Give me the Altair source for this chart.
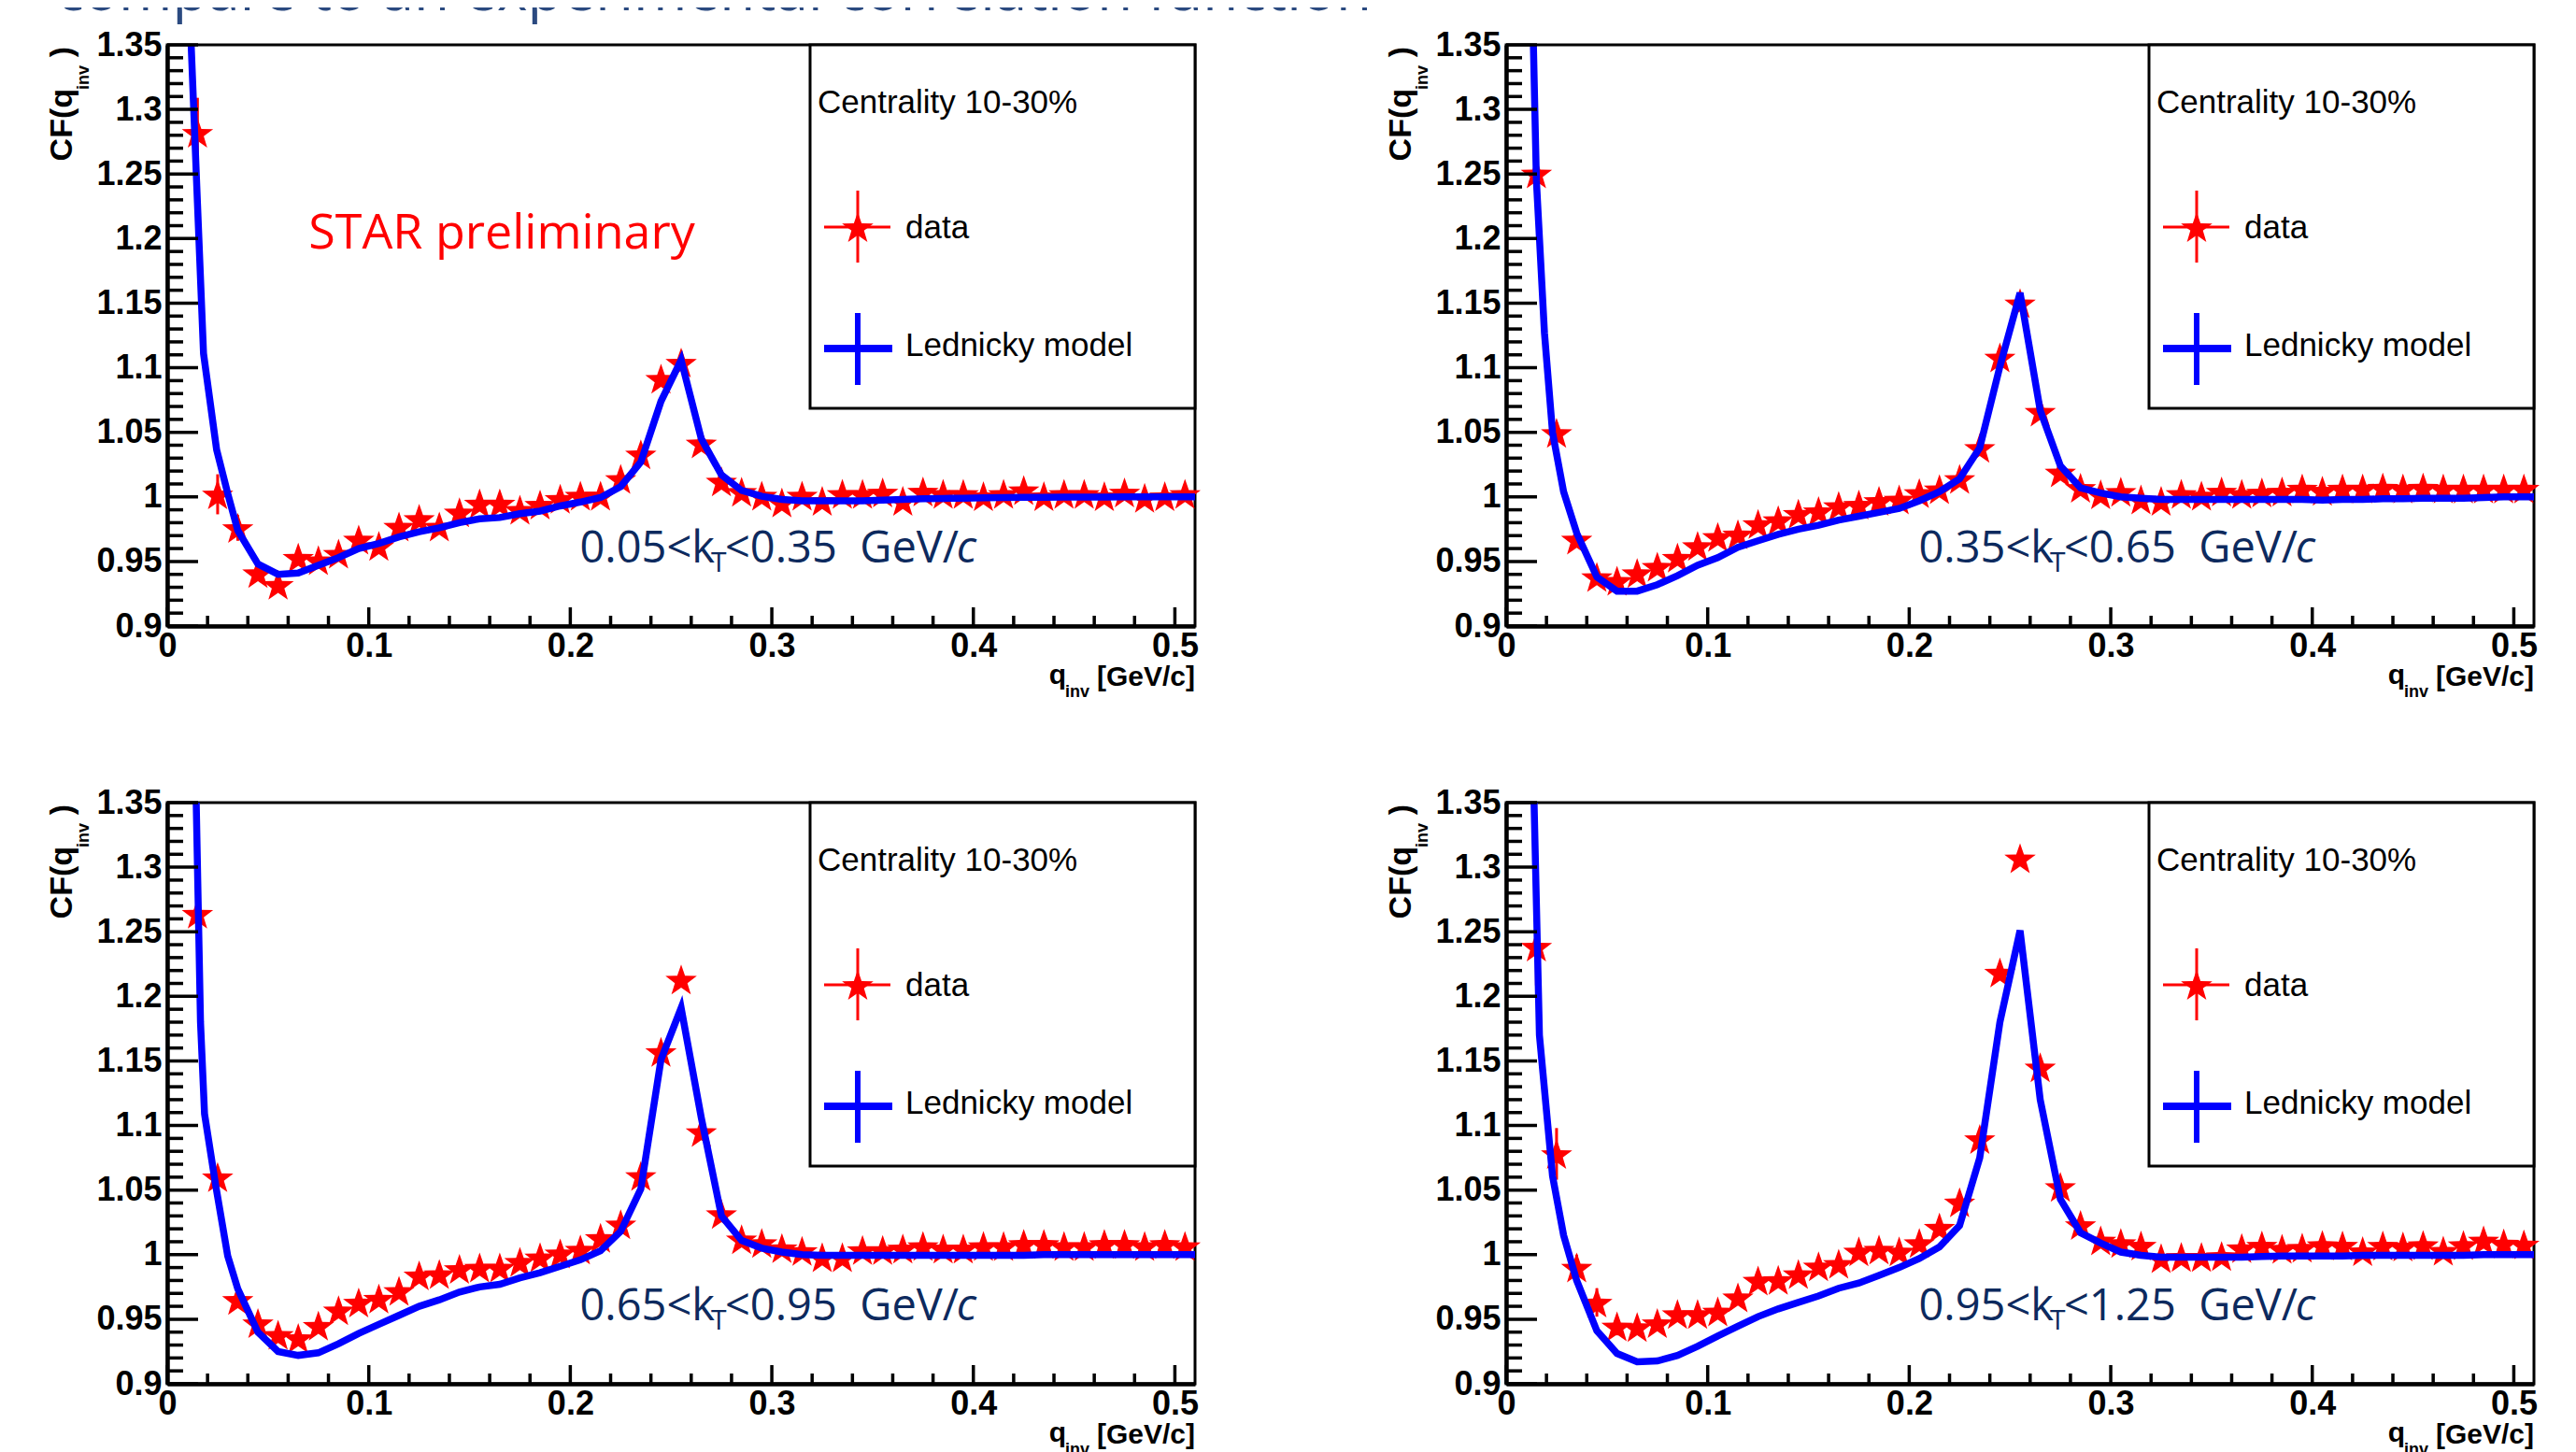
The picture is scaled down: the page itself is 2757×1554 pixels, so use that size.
import altair as alt
import pandas as pd

# ---------------- data ----------------
q_data = [0.015, 0.025, 0.035, 0.045, 0.055, 0.065, 0.075, 0.085, 0.095, 0.105,
          0.115, 0.125, 0.135, 0.145, 0.155, 0.165, 0.175, 0.185, 0.195, 0.205,
          0.215, 0.225, 0.235, 0.245, 0.255, 0.265, 0.275, 0.285, 0.295, 0.305,
          0.315, 0.325, 0.335, 0.345, 0.355, 0.365, 0.375, 0.385, 0.395, 0.405,
          0.415, 0.425, 0.435, 0.445, 0.455, 0.465, 0.475, 0.485, 0.495, 0.505]

cf_p1 = [1.282, 1.002, 0.976, 0.941, 0.932, 0.953, 0.951, 0.956, 0.967, 0.962,
         0.977, 0.983, 0.977, 0.988, 0.995, 0.995, 0.990, 0.994, 0.9985, 1.001,
         1.001, 1.014, 1.033, 1.0915, 1.104, 1.0415, 1.012, 1.004, 1.001, 0.9957,
         1.001, 0.9969, 1.0024, 1.0024, 1.0034, 0.9969, 1.0041, 1.0024, 1.0024, 1.0005,
         1.0024, 1.0053, 1.0005, 1.0024, 1.0024, 1.0005, 1.0034, 0.9993, 1.0005, 1.0024]
cf_p2 = [1.2505, 1.0496, 0.967, 0.938, 0.935, 0.941, 0.946, 0.953, 0.962, 0.969,
         0.971, 0.979, 0.982, 0.987, 0.989, 0.993, 0.994, 0.997, 0.998, 1.003,
         1.006, 1.014, 1.038, 1.108, 1.150, 1.066, 1.019, 1.007, 1.002, 1.004,
         0.998, 0.9969, 1.0024, 1.001, 1.0041, 1.0024, 1.0034, 1.0041, 1.0065, 1.0048,
         1.0065, 1.0065, 1.0072, 1.0065, 1.0072, 1.0065, 1.0065, 1.0065, 1.0065, 1.0065]
cf_p3 = [1.264, 1.060, 0.965, 0.947, 0.938, 0.9355, 0.945, 0.957, 0.963, 0.966,
         0.972, 0.984, 0.985, 0.989, 0.990, 0.990, 0.9945, 0.998, 1.001, 1.004,
         1.013, 1.0235, 1.061, 1.157, 1.213, 1.095, 1.0315, 1.012, 1.009, 1.005,
         1.0029, 0.998, 0.998, 1.0036, 1.0036, 1.0048, 1.0067, 1.0048, 1.0048, 1.0067,
         1.0067, 1.0084, 1.0084, 1.0067, 1.0067, 1.0084, 1.0084, 1.0067, 1.0084, 1.0067]
cf_p4 = [1.2385, 1.078, 0.990, 0.963, 0.9445, 0.944, 0.947, 0.954, 0.954, 0.956,
         0.967, 0.980, 0.9805, 0.985, 0.991, 0.993, 1.0025, 1.004, 1.0025, 1.009,
         1.021, 1.0406, 1.0896, 1.2185, 1.307, 1.145, 1.0525, 1.023, 1.011, 1.009,
         1.007, 0.9973, 0.9983, 0.9983, 0.999, 1.005, 1.007, 1.0046, 1.0055, 1.0075,
         1.007, 1.0027, 1.007, 1.0063, 1.0075, 1.0031, 1.0075, 1.011, 1.0087, 1.008]

# visible statistical errors of the first points
err_p1 = [0.027, 0.0155, 0.010, 0.005, 0.004]
err_p2 = [0.012, 0.008, 0.006, 0.004, 0.003]
err_p3 = [0.012, 0.008, 0.006, 0.004, 0.003]
err_p4 = [0.030, 0.020, 0.010, 0.011, 0.007]

q_model_tail = [0.035, 0.045, 0.055, 0.065, 0.075, 0.085, 0.095, 0.105, 0.115, 0.125,
                0.135, 0.145, 0.155, 0.165, 0.175, 0.185, 0.195, 0.205, 0.215, 0.225,
                0.235, 0.245, 0.255, 0.265, 0.275, 0.285, 0.295, 0.305, 0.315, 0.325,
                0.335, 0.345, 0.355, 0.365, 0.375, 0.385, 0.395, 0.405, 0.415, 0.425,
                0.435, 0.445, 0.455, 0.465, 0.475, 0.485, 0.495, 0.505, 0.515]
mq_p1 = [0.005, 0.015, 0.018, 0.0245, 0.03] + q_model_tail
mq_p2 = [0.005, 0.015, 0.019, 0.023, 0.0285] + q_model_tail
mq_p3 = [0.005, 0.0165, 0.0185, 0.024, 0.03] + q_model_tail
mq_p4 = [0.005, 0.0165, 0.023, 0.0285] + q_model_tail

mcf_p1 = [1.62, 1.227, 1.111, 1.0366, 1.0027, 0.974, 0.948, 0.940, 0.941, 0.947,
          0.953, 0.960, 0.964, 0.969, 0.973, 0.976, 0.980, 0.983, 0.984, 0.987,
          0.989, 0.993, 0.996, 0.9995, 1.008, 1.027, 1.074, 1.106, 1.045, 1.017,
          1.005, 1.0005, 0.998, 0.997, 0.997, 0.997, 0.997, 0.9975, 0.998, 0.9985,
          0.9988, 0.999, 0.9993, 0.9995, 0.9996, 0.9997, 0.9998, 0.9998, 0.9999, 1.0,
          1.0, 1.0, 1.0, 1.0]
mcf_p2 = [1.95, 1.245, 1.127, 1.05, 1.004, 0.972, 0.938, 0.927, 0.927, 0.932,
          0.939, 0.947, 0.953, 0.961, 0.966, 0.971, 0.975, 0.978, 0.982, 0.985,
          0.988, 0.991, 0.997, 1.004, 1.014, 1.038, 1.101, 1.158, 1.067, 1.024,
          1.007, 1.003, 1.0, 0.999, 0.998, 0.998, 0.998, 0.998, 0.998, 0.998,
          0.998, 0.998, 0.9975, 0.998, 0.998, 0.9985, 0.9985, 0.999, 0.999, 0.999,
          0.9995, 1.0, 1.0, 1.0]
mcf_p3 = [2.1, 1.18, 1.109, 1.054, 0.999, 0.9735, 0.940, 0.925, 0.922, 0.924,
          0.931, 0.939, 0.946, 0.953, 0.960, 0.965, 0.971, 0.975, 0.977, 0.982,
          0.986, 0.991, 0.996, 1.003, 1.018, 1.051, 1.151, 1.191, 1.106, 1.030,
          1.011, 1.005, 1.002, 1.0, 0.9995, 0.9995, 0.9995, 0.9995, 0.9995, 0.9995,
          0.9995, 0.9995, 0.9995, 0.9995, 0.9995, 1.0, 1.0, 1.0, 1.0, 1.0,
          1.0, 1.0, 1.0, 1.0]
mcf_p4 = [1.95, 1.17, 1.061, 1.015, 0.980, 0.941, 0.9235, 0.917, 0.9177, 0.922,
          0.929, 0.937, 0.9445, 0.952, 0.958, 0.963, 0.968, 0.974, 0.978, 0.984,
          0.990, 0.997, 1.006, 1.0225, 1.075, 1.180, 1.251, 1.120, 1.043, 1.017,
          1.009, 1.002, 0.9995, 0.998, 0.998, 0.998, 0.998, 0.998, 0.9985, 0.999,
          0.999, 0.999, 0.999, 0.9995, 0.9995, 0.9995, 0.9995, 0.9995, 0.9995, 1.0,
          1.0, 1.0, 1.0]

kt_bins = [("0.05", "0.35"), ("0.35", "0.65"), ("0.65", "0.95"), ("0.95", "1.25")]

x_major = [0, 0.1, 0.2, 0.3, 0.4, 0.5]
x_minor = [0.02, 0.04, 0.06, 0.08, 0.12, 0.14, 0.16, 0.18, 0.22, 0.24, 0.26, 0.28,
           0.32, 0.34, 0.36, 0.38, 0.42, 0.44, 0.46, 0.48]
y_major = [0.9, 0.95, 1.0, 1.05, 1.1, 1.15, 1.2, 1.25, 1.3, 1.35]
y_minor = [0.91, 0.92, 0.93, 0.94, 0.96, 0.97, 0.98, 0.99, 1.01, 1.02, 1.03, 1.04,
           1.06, 1.07, 1.08, 1.09, 1.11, 1.12, 1.13, 1.14, 1.16, 1.17, 1.18, 1.19,
           1.21, 1.22, 1.23, 1.24, 1.26, 1.27, 1.28, 1.29, 1.31, 1.32, 1.33, 1.34]

# ---------------- style ----------------
W, H = 1100, 622
RED = "#ff0000"
BLUE = "#0000ff"
NAVY = "#0d2a5e"
AXF = "Liberation Sans"
SANS = "Open Sans"
STAR = ("M0,-0.905L0.235,-0.229L0.951,-0.214L0.38,0.219L0.588,0.905L0,0.495"
        "L-0.588,0.905L-0.38,0.219L-0.951,-0.214L-0.235,-0.229Z")
STAR_SIZE = 1250

one = pd.DataFrame({"a": [0]})


def txt(text, x, y, size, color="black", font=AXF, weight="normal", align="left",
        baseline="alphabetic", angle=0, style="normal"):
    return alt.Chart(one).mark_text(
        text=text, align=align, baseline=baseline, font=font, fontSize=size,
        fontWeight=weight, fontStyle=style, color=color, angle=angle
    ).encode(x=alt.value(x), y=alt.value(y))


def prule(x, x2, y, y2, color, sw):
    return alt.Chart(one).mark_rule(color=color, strokeWidth=sw).encode(
        x=alt.value(x), x2=alt.value(x2), y=alt.value(y), y2=alt.value(y2))


XSC = alt.Scale(domain=[0, 0.51], nice=False, zero=False)
YSC = alt.Scale(domain=[0.9, 1.35], nice=False, zero=False)
XAX = alt.Axis(values=x_major, ticks=False, grid=False, title=None,
               domainColor="black", domainWidth=4.5,
               labelFont=AXF, labelFontWeight="bold", labelFontSize=36,
               labelColor="black", labelPadding=4, labelFlush=False,
               labelOverlap=False, format="~g")
YAX = alt.Axis(values=y_major, ticks=False, grid=False, title=None,
               domainColor="black", domainWidth=4.5,
               labelFont=AXF, labelFontWeight="bold", labelFontSize=36,
               labelColor="black", labelPadding=6, labelFlush=False,
               labelOverlap=False, format="~g")


def xenc(field):
    return alt.X(field + ":Q", scale=XSC, axis=XAX)


def yenc(field):
    return alt.Y(field + ":Q", scale=YSC, axis=YAX)


def panel(cf, err, mq, mcf, kt, first=False):
    pts = pd.DataFrame({"q": q_data, "cf": cf})
    eb = pd.DataFrame({"q": q_data[:len(err)],
                       "cf": [c - e for c, e in zip(cf, err)],
                       "hi": [c + e for c, e in zip(cf, err)]})
    mdl = pd.DataFrame({"q": mq, "cf": mcf})

    layers = []
    # legend box
    layers.append(alt.Chart(one).mark_rect(fill="white", stroke="black", strokeWidth=3).encode(
        x=alt.value(688), x2=alt.value(W), y=alt.value(0), y2=alt.value(389)))
    # data stars with error bars
    layers.append(alt.Chart(eb).mark_rule(color=RED, strokeWidth=3).encode(
        x=xenc("q"), y=yenc("cf"), y2="hi:Q"))
    layers.append(alt.Chart(pts).mark_point(shape=STAR, filled=True, size=STAR_SIZE,
                                            color=RED, opacity=1).encode(
        x=xenc("q"), y=yenc("cf")))
    # model
    layers.append(alt.Chart(mdl).mark_line(color=BLUE, strokeWidth=7.5, clip=True).encode(
        x=xenc("q"), y=yenc("cf")))
    # inward ticks
    for vals, ln in ((x_major, 20), (x_minor, 11)):
        layers.append(alt.Chart(pd.DataFrame({"q": vals})).mark_rule(
            color="black", strokeWidth=3.5).encode(
            x=xenc("q"), y=alt.value(H), y2=alt.value(H - ln)))
    for vals, ln in ((y_major, 33), (y_minor, 17)):
        layers.append(alt.Chart(pd.DataFrame({"cf": vals})).mark_rule(
            color="black", strokeWidth=3.5).encode(
            y=yenc("cf"), x=alt.value(0), x2=alt.value(ln)))
    # legend content
    layers.append(txt("Centrality 10-30%", 696, 73, 35))
    layers.append(prule(703, 774, 195, 195, RED, 3))
    layers.append(prule(739, 739, 156, 233, RED, 3))
    layers.append(alt.Chart(one).mark_point(shape=STAR, filled=True, size=STAR_SIZE,
                                            color=RED, opacity=1).encode(
        x=alt.value(739), y=alt.value(195)))
    layers.append(txt("data", 790, 207, 35))
    layers.append(prule(703, 776, 325, 325, BLUE, 8))
    layers.append(prule(739, 739, 287, 364, BLUE, 6))
    layers.append(txt("Lednicky model", 790, 333, 35))
    # kT label
    lo, hi = kt
    layers.append(txt(lo + "<k", 586, 554, 47, NAVY, SANS, align="right"))
    layers.append(txt("T", 582, 564, 30, NAVY, SANS))
    layers.append(txt("<" + hi + " \u00a0GeV/", 597, 554, 47, NAVY, SANS))
    layers.append(txt("c", 866, 554, 47, NAVY, SANS, align="right", style="italic"))
    # axis titles
    layers.append(txt("q", 962, 684, 30, weight="bold", align="right"))
    layers.append(txt("inv", 987, 698, 18, weight="bold", align="right"))
    layers.append(txt("[GeV/c]", 1100, 686, 30, weight="bold", align="right"))
    layers.append(txt(")", -102, 2, 34, weight="bold", align="right", angle=270))
    layers.append(txt("inv", -84, 22, 18, weight="bold", align="right", angle=270))
    layers.append(txt("CF(q", -102, 47, 34, weight="bold", align="right", angle=270))
    if first:
        layers.append(txt("STAR preliminary", 358, 218, 52, RED, SANS, align="center"))
        layers.append(txt("compare to an experimental correlation function", -119, -37, 62,
                          "#2b4a80", SANS))
    return alt.layer(*layers).properties(width=W, height=H)


p1 = panel(cf_p1, err_p1, mq_p1, mcf_p1, kt_bins[0], first=True)
p2 = panel(cf_p2, err_p2, mq_p2, mcf_p2, kt_bins[1])
p3 = panel(cf_p3, err_p3, mq_p3, mcf_p3, kt_bins[2])
p4 = panel(cf_p4, err_p4, mq_p4, mcf_p4, kt_bins[3])

chart = alt.concat(
    p1, p2, p3, p4, columns=2, spacing={"row": 189, "column": 333}, bounds="flush"
).properties(
    padding={"left": 40, "top": -49, "right": 5, "bottom": 5}, background="white"
).configure_view(stroke="black", strokeWidth=3)

chart.save("out.html", embed_options={"renderer": "svg", "actions": False})
